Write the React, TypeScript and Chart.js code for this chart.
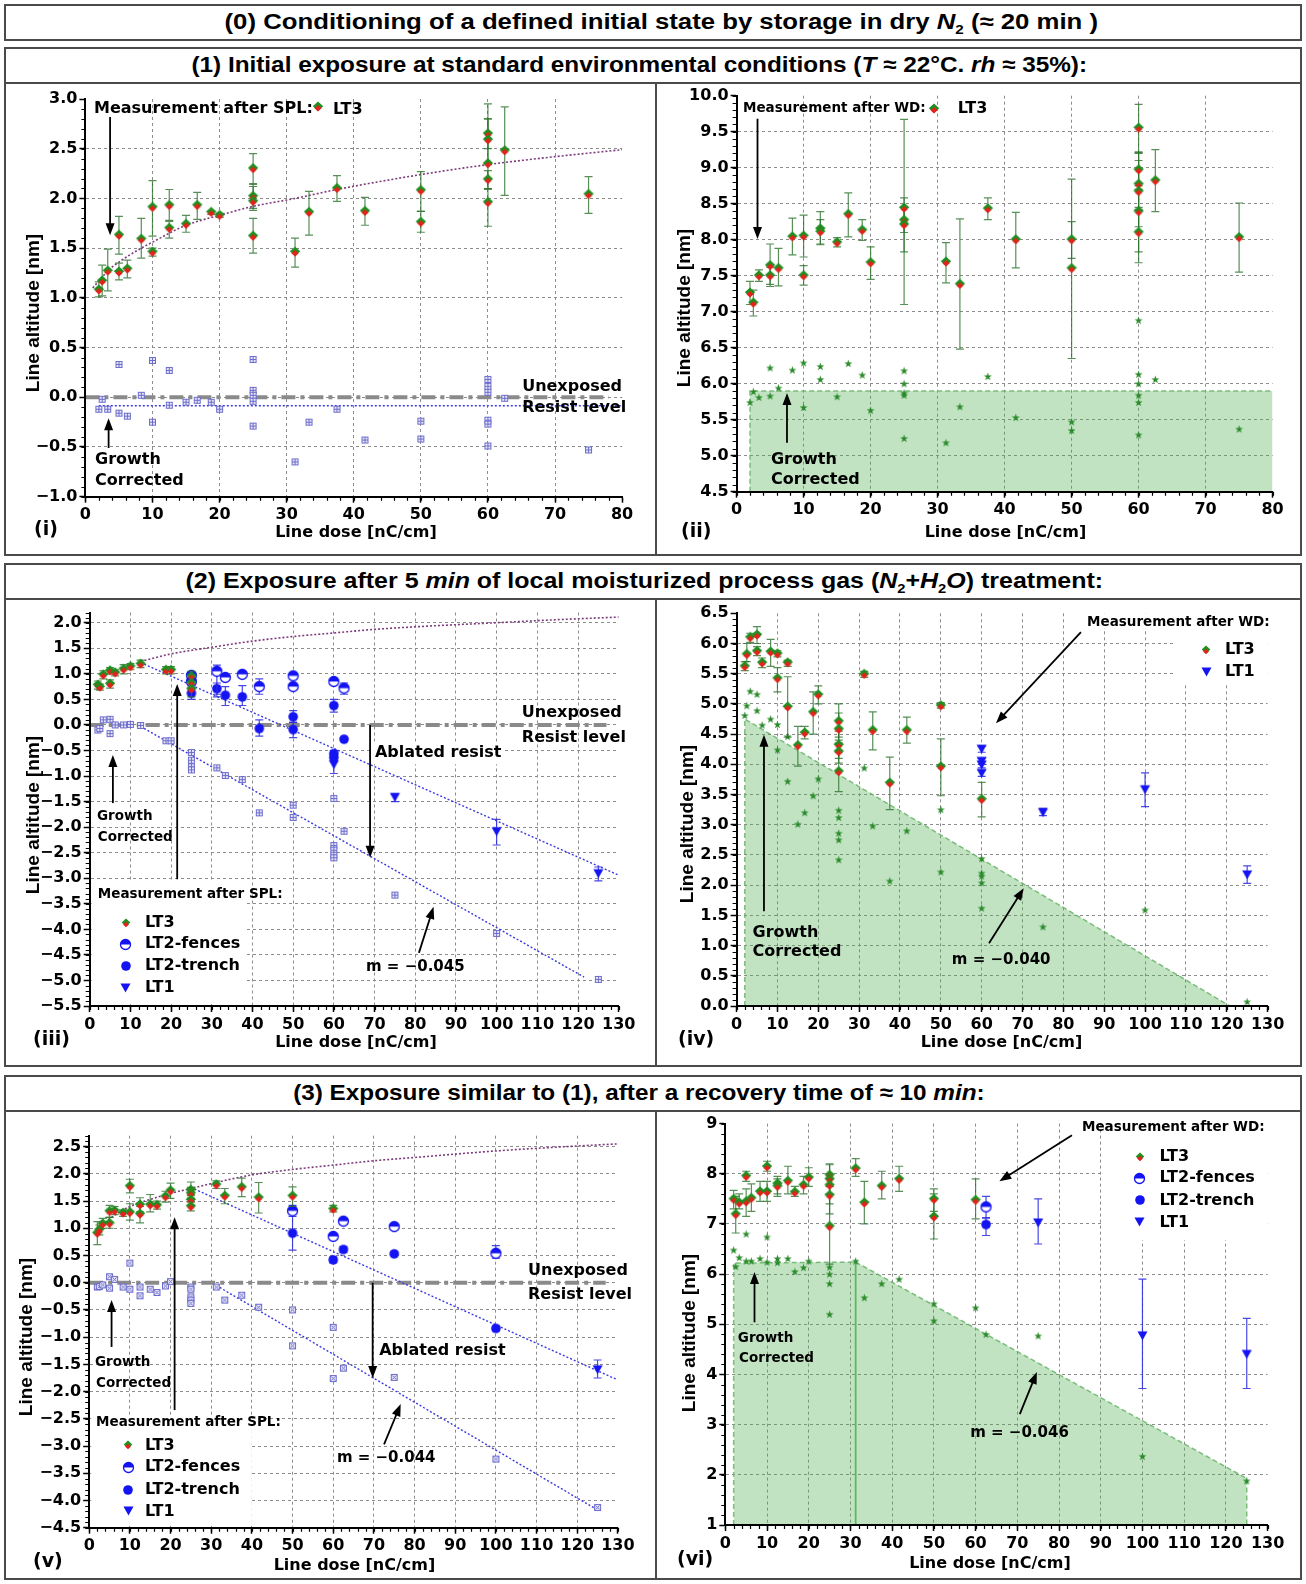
import React, { useEffect, useRef } from "react";
import { Chart, registerables } from "chart.js";

Chart.register(...registerables);

// ---------------- colours & fonts ----------------
const GREEN = "#1f8f1f";
const RED = "#e3221b";
const BLUE = "#1414f2";
const GRID = "#8c8c8c";
const ERR_GREEN = "rgba(45,115,45,0.8)";
const ERR_BLUE = "rgba(40,40,225,0.85)";
const FIT = "#7d3c7d";
const LEVEL_BLUE = "#3a3ae0";
const RESIST_GRAY = "#8a8a8a";
const FILL = "rgba(76,175,80,0.35)";
const FILL_EDGE = "rgba(105,180,105,0.85)";
const CHART_FAMILY = '"DejaVu Sans", "Liberation Sans", sans-serif';
const HEAD_FAMILY = '"Liberation Sans", Arial, sans-serif';

// ---------------- data ----------------
// rows: [line dose (nC/cm), line altitude (nm), error low, error high]

// (i) initial exposure, measured after SPL
const p1Lt3 = [
  [2, 1.08, 1.01, 1.16], [2.5, 1.17, 1.02, 1.33], [3.33, 1.27, 1.07, 1.49], [5, 1.63, 1.44, 1.82],
  [5, 1.26, 1.18, 1.35], [6.25, 1.29, 1.2, 1.38], [8.33, 1.59, 1.4, 1.8], [10, 1.91, 1.62, 2.18],
  [10, 1.46, 1.42, 1.5], [12.5, 1.93, 1.78, 2.09], [12.5, 1.7, 1.6, 1.77], [15, 1.74, 1.66, 1.83],
  [16.67, 1.93, 1.79, 2.06], [18.75, 1.86, 1.84, 1.87], [20, 1.83, 1.81, 1.85], [25, 2.3, 2.14, 2.45],
  [25, 2.02, 1.9, 2.15], [25, 1.97, 1.88, 2.12], [25, 1.62, 1.45, 1.8], [31.25, 1.46, 1.31, 1.6],
  [33.33, 1.86, 1.63, 2.07], [37.5, 2.1, 1.97, 2.23], [41.67, 1.87, 1.73, 2.01], [50, 2.08, 1.87, 2.27],
  [50, 1.76, 1.66, 1.87], [60, 2.65, 2.35, 2.95], [60, 2.59, 2.5, 2.8], [60, 2.35, 2.1, 2.8],
  [60, 2.19, 2.09, 2.28], [60, 1.96, 1.72, 2.1], [62.5, 2.48, 2.03, 2.92], [75, 2.04, 1.85, 2.22],
];
const p1Growth = [
  [2, -0.12], [2.5, -0.02], [3.33, -0.12], [5, 0.33], [5, -0.16], [6.25, -0.19], [8.33, 0.02],
  [10, 0.37], [10, -0.25], [12.5, 0.27], [12.5, -0.08], [15, -0.05], [16.67, -0.03], [18.75, -0.05],
  [20, -0.12], [25, 0.38], [25, 0.07], [25, 0.02], [25, -0.04], [25, -0.29], [31.25, -0.65],
  [33.33, -0.25], [37.5, -0.12], [41.67, -0.43], [50, -0.24], [50, -0.42], [60, 0.18], [60, 0.11],
  [60, 0.05], [60, -0.23], [60, -0.27], [60, -0.49], [62.5, -0.01], [75, -0.53],
];
const p1Fit = [
  [1.1, 1.1], [2, 1.17], [3.33, 1.27], [5, 1.36], [8.33, 1.5], [10, 1.56], [12.5, 1.65], [15, 1.73],
  [20, 1.83], [25, 1.92], [31.25, 2.0], [37.5, 2.09], [50, 2.24], [60, 2.34], [70, 2.42], [80, 2.49],
];
const p1GrowthLevel = [[2, -0.085], [80, -0.085]];
const p1Resist = [[0, 0], [78, 0]];

// (ii) initial exposure, measured after WD
const p2Lt3 = [
  [2, 7.26, 7.1, 7.42], [2.5, 7.12, 6.94, 7.3], [3.33, 7.5, 7.42, 7.58], [5, 7.64, 7.35, 7.94],
  [5, 7.5, 7.38, 7.62], [6.25, 7.6, 7.36, 7.88], [8.33, 8.04, 7.79, 8.3], [10, 8.05, 7.76, 8.34],
  [10, 7.5, 7.37, 7.64], [12.5, 8.15, 7.93, 8.39], [12.5, 8.11, 7.94, 8.28], [15, 7.96, 7.9, 8.03],
  [16.67, 8.35, 8.04, 8.65], [18.75, 8.13, 7.99, 8.28], [20, 7.68, 7.45, 7.9], [25, 8.44, 7.83, 9.67],
  [25, 8.27, 8.1, 8.58], [25, 8.21, 7.1, 8.45], [31.25, 7.69, 7.4, 7.96], [33.33, 7.38, 6.48, 8.29],
  [37.5, 8.43, 8.28, 8.58], [41.67, 8.0, 7.61, 8.38], [50, 8.0, 7.74, 8.25], [50, 7.6, 6.35, 8.84],
  [60, 9.55, 9.21, 9.88], [60, 8.97, 8.75, 9.2], [60, 8.77, 8.42, 9.1], [60, 8.67, 8.18, 9.22],
  [60, 8.39, 7.83, 8.7], [60, 8.1, 7.68, 8.45], [62.5, 8.82, 8.39, 9.25], [75, 8.03, 7.55, 8.51],
];
const p2Growth = [
  [2, 5.74], [2.5, 5.89], [3.33, 5.81], [5, 6.22], [5, 5.83], [6.25, 5.94], [8.33, 6.19], [10, 6.29],
  [10, 5.67], [12.5, 6.24], [12.5, 6.06], [15, 5.82], [16.67, 6.28], [18.75, 6.12], [20, 5.63],
  [25, 6.18], [25, 6.0], [25, 5.87], [25, 5.84], [25, 5.24], [31.25, 5.18], [33.33, 5.68], [37.5, 6.1],
  [41.67, 5.53], [50, 5.47], [50, 5.35], [60, 6.88], [60, 6.13], [60, 6.0], [60, 5.84], [60, 5.74],
  [60, 5.29], [62.5, 6.06], [75, 5.37],
];
const p2Band = [[2, 4.5], [2, 5.9], [80, 5.9]];

// (iii) after moisturized process gas, measured after SPL
const p3Lt3 = [
  [2, 0.78, 0.7, 0.86], [2.5, 0.74, 0.68, 0.8], [3.33, 0.98, 0.9, 1.06], [5, 1.06, 1.0, 1.12],
  [5, 0.8, 0.72, 0.88], [6.25, 1.02, 0.96, 1.08], [8.33, 1.09, 1.0, 1.18], [10, 1.14, 1.08, 1.2],
  [12.5, 1.19, 1.12, 1.27], [18.75, 1.07, 1.0, 1.14], [20, 1.07, 1.0, 1.14], [25, 0.95, 0.85, 1.05],
  [25, 0.82, 0.7, 0.95], [25, 0.7, 0.55, 0.85],
];
const p3Fences = [
  [25, 0.97, 0.9, 1.04], [25, 0.85, 0.78, 0.92], [31.25, 1.05, 0.55, 1.17], [33.33, 0.93, 0.88, 0.98],
  [37.5, 0.99, 0.94, 1.04], [41.67, 0.75, 0.6, 0.9], [50, 0.96, 0.9, 1.02], [50, 0.75, 0.7, 0.8],
  [60, 0.85, 0.8, 0.9], [62.5, 0.72, 0.6, 0.82],
];
const p3Trench = [
  [25, 0.62, 0.5, 0.74], [31.25, 0.71, 0.6, 0.82], [33.33, 0.58, 0.38, 0.75], [37.5, 0.55, 0.38, 0.77],
  [41.67, -0.07, -0.22, 0.1], [50, 0.16, 0.05, 0.28], [50, -0.09, -0.25, 0.05], [60, 0.38, 0.25, 0.5],
  [60, -0.56, -0.62, -0.5], [60, -0.64, -0.7, -0.58], [62.5, -0.28, -0.3, -0.26],
];
const p3Lt1 = [
  [60, -0.78, -0.95, -0.6], [75, -1.42, -1.5, -1.35], [100, -2.09, -2.35, -1.85], [125, -2.91, -3.05, -2.78],
];
const p3Growth = [
  [2, -0.1], [2.5, -0.07], [3.33, 0.1], [5, 0.11], [5, -0.17], [6.25, 0], [8.33, 0], [10, 0.01],
  [12.5, -0.01], [18.75, -0.31], [20, -0.31], [25, -0.54], [25, -0.69], [25, -0.82], [25, -0.88],
  [31.25, -0.84], [33.33, -0.99], [37.5, -1.07], [41.67, -1.72], [50, -1.57], [50, -1.81], [60, -1.44],
  [60, -2.36], [60, -2.45], [60, -2.55], [60, -2.6], [62.5, -2.08], [75, -3.33], [100, -4.08], [125, -4.98],
];
const p3Fit = [
  [12.5, 1.24], [20, 1.39], [30, 1.52], [40, 1.64], [50, 1.73], [60, 1.8], [70, 1.87], [80, 1.92],
  [100, 2.0], [115, 2.06], [130, 2.11],
];
const p3Upper = [[12.5, 1.22], [130, -2.94]];
const p3LowerStart = [12.5, -0.03];
const p3LowerEndDose = 121.5;
const p3Slope = -0.045;
const p3Resist = [[0, 0], [127, 0]];

// (iv) after moisturized process gas, measured after WD
const p4Lt3 = [
  [2, 5.62, 5.55, 5.7], [2.5, 5.82, 5.7, 6.0], [3.33, 6.1, 6.02, 6.17], [5, 6.14, 6.0, 6.28],
  [5, 5.87, 5.8, 5.95], [6.25, 5.68, 5.6, 5.76], [8.33, 5.86, 5.62, 6.07], [10, 5.83, 5.78, 5.88],
  [10, 5.42, 5.2, 5.6], [12.5, 5.68, 5.62, 5.72], [12.5, 4.95, 4.45, 5.45], [15, 4.31, 3.97, 4.63],
  [16.67, 4.52, 4.42, 4.63], [18.75, 4.86, 4.5, 5.2], [20, 5.15, 5.0, 5.3], [25, 4.71, 4.45, 5.0],
  [25, 4.58, 4.35, 4.85], [25, 4.32, 4.1, 4.55], [25, 4.21, 4.02, 4.4], [25, 3.88, 3.55, 4.2],
  [31.25, 5.49, 5.44, 5.54], [33.33, 4.56, 4.24, 4.87], [37.5, 3.69, 3.25, 4.12], [41.67, 4.56, 4.35, 4.78],
  [50, 4.97, 4.93, 5.02], [50, 3.96, 3.48, 4.42], [60, 3.42, 3.13, 3.7],
];
const p4Lt1 = [
  [60, 4.25, 4.2, 4.3], [60, 4.05, 4.0, 4.1], [60, 3.99, 3.94, 4.04], [60, 3.85, 3.8, 3.9],
  [75, 3.2, 3.15, 3.27], [100, 3.58, 3.3, 3.86], [125, 2.17, 2.03, 2.32],
];
const p4Growth = [
  [2, 4.81], [2.5, 4.97], [3.33, 5.21], [5, 5.16], [5, 4.89], [6.25, 4.65], [8.33, 4.75], [10, 4.66],
  [10, 4.24], [12.5, 4.46], [12.5, 3.72], [15, 3.01], [16.67, 3.2], [18.75, 3.48], [20, 3.76],
  [25, 3.24], [25, 3.12], [25, 2.86], [25, 2.75], [25, 2.42], [31.25, 3.94], [33.33, 2.98], [37.5, 2.07],
  [41.67, 2.9], [50, 3.25], [50, 2.22], [60, 2.44], [60, 2.2], [60, 2.15], [60, 2.04], [60, 1.62],
  [75, 1.31], [100, 1.59], [125, 0.07],
];
const p4EdgeStart = [2, 4.75];
const p4Slope = -0.04;
const p4EdgeEndDose = 120.75;

// (v) after recovery, measured after SPL
const p5Lt3 = [
  [2, 0.91, 0.7, 1.12], [2.5, 0.97, 0.88, 1.06], [3.33, 1.08, 1.0, 1.18], [5, 1.31, 1.2, 1.42],
  [5, 1.09, 1.0, 1.2], [6.25, 1.32, 1.25, 1.4], [8.33, 1.28, 1.22, 1.34], [10, 1.29, 1.15, 1.45],
  [10, 1.77, 1.65, 1.9], [12.5, 1.43, 1.3, 1.56], [12.5, 1.26, 1.1, 1.4], [15, 1.43, 1.3, 1.62],
  [16.67, 1.42, 1.35, 1.5], [18.75, 1.58, 1.48, 1.68], [20, 1.69, 1.55, 1.83], [25, 1.7, 1.6, 1.85],
  [25, 1.64, 1.55, 1.75], [25, 1.52, 1.42, 1.62], [25, 1.4, 1.32, 1.48], [31.25, 1.8, 1.73, 1.87],
  [33.33, 1.59, 1.45, 1.73], [37.5, 1.75, 1.58, 1.92], [41.67, 1.56, 1.28, 1.84], [50, 1.59, 1.4, 1.76],
  [60, 1.35, 1.3, 1.42],
];
const p5Fences = [
  [50, 1.32, 1.22, 1.42], [60, 0.85, 0.8, 0.9], [62.5, 1.13, 1.08, 1.18], [75, 1.03, 0.98, 1.08],
  [100, 0.54, 0.45, 0.68],
];
const p5Trench = [
  [50, 0.91, 0.6, 1.3], [60, 0.42, 0.37, 0.47], [62.5, 0.61, 0.56, 0.66], [75, 0.53, 0.5, 0.56],
  [100, -0.84, -0.88, -0.8],
];
const p5Lt1 = [[125, -1.6, -1.75, -1.42]];
const p5Growth = [
  [2, -0.08], [2.5, -0.07], [3.33, -0.04], [5, 0.11], [5, -0.1], [6.25, 0.06], [8.33, -0.08],
  [10, 0.36], [10, -0.12], [12.5, -0.08], [12.5, -0.24], [15, -0.12], [16.67, -0.18], [18.75, -0.06],
  [20, 0.02], [25, -0.08], [25, -0.12], [25, -0.26], [25, -0.32], [25, -0.38], [31.25, -0.08],
  [33.33, -0.32], [37.5, -0.23], [41.67, -0.45], [50, -0.5], [50, -1.16], [60, -0.82], [60, -1.76],
  [62.5, -1.57], [75, -1.74], [100, -3.24], [125, -4.13],
];
const p5Fit = [
  [1, 0.91], [2, 0.95], [5, 1.17], [10, 1.4], [15, 1.53], [20, 1.64], [25, 1.73], [30, 1.82],
  [40, 1.98], [50, 2.08], [60, 2.16], [70, 2.24], [80, 2.3], [100, 2.42], [115, 2.49], [130, 2.55],
];
const p5Upper = [[25, 1.75], [129.5, -1.77]];
const p5LowerStart = [31.25, -0.05];
const p5LowerEndDose = 125;
const p5Slope = -0.044;
const p5Resist = [[0, 0], [127, 0]];

// (vi) after recovery, measured after WD
const p6Lt3 = [
  [2, 7.49, 7.3, 7.67], [2.5, 7.19, 6.82, 7.55], [3.33, 7.42, 7.3, 7.6], [5, 7.95, 7.85, 8.05],
  [5, 7.44, 7.15, 7.7], [6.25, 7.51, 7.25, 7.8], [8.33, 7.64, 7.45, 7.85], [10, 8.14, 8.05, 8.25],
  [10, 7.64, 7.45, 7.85], [12.5, 7.8, 7.6, 7.95], [12.5, 7.75, 7.55, 7.9], [15, 7.85, 7.6, 8.15],
  [16.67, 7.63, 7.55, 7.75], [18.75, 7.77, 7.6, 7.95], [20, 7.92, 7.75, 8.12], [25, 7.97, 7.75, 8.2],
  [25, 7.89, 7.6, 8.18], [25, 7.77, 7.4, 8.0], [25, 7.57, 7.2, 7.9], [25, 6.95, 6.2, 7.75],
  [31.25, 8.1, 7.95, 8.3], [33.33, 7.42, 7.0, 7.85], [37.5, 7.75, 7.5, 8.05], [41.67, 7.89, 7.65, 8.15],
  [50, 7.49, 7.25, 7.7], [50, 7.14, 6.7, 7.6], [60, 7.47, 7.1, 7.9],
];
const p6Fences = [[62.5, 7.34, 7.12, 7.55]];
const p6Trench = [[62.5, 6.99, 6.77, 7.12]];
const p6Lt1 = [[75, 7.02, 6.6, 7.5], [100, 4.77, 3.72, 5.9], [125, 4.4, 3.72, 5.12]];
const p6Growth = [
  [2, 6.48], [2.5, 6.15], [3.33, 6.33], [5, 6.8], [5, 6.26], [6.25, 6.26], [8.33, 6.31], [10, 6.74],
  [10, 6.24], [12.5, 6.31], [12.5, 6.23], [15, 6.31], [16.67, 6.05], [18.75, 6.13], [20, 6.26],
  [25, 6.14], [25, 6.0], [25, 5.81], [25, 5.2], [31.25, 6.26], [33.33, 5.53], [37.5, 5.81], [41.67, 5.9],
  [50, 5.41], [50, 5.07], [60, 5.33], [62.5, 4.8], [75, 4.77], [100, 2.37], [125, 1.88],
];
const p6PlateauStart = [2, 6.22];
const p6PlateauEnd = [31.25, 6.24];
const p6Slope = -0.046;
const p6EdgeEndDose = 125;

// ---------------- layout of the six panels (page pixels) ----------------
const PANELS = [
  { box: { left: 6, top: 84, w: 647, h: 470 }, area: { left: 85.4, top: 99, right: 622.1, bottom: 496.7 } },
  { box: { left: 657, top: 84, w: 643, h: 470 }, area: { left: 736.6, top: 95.7, right: 1272.6, bottom: 491.7 } },
  { box: { left: 6, top: 600, w: 647, h: 465 }, area: { left: 89.7, top: 612.5, right: 618.7, bottom: 1006 } },
  { box: { left: 657, top: 600, w: 643, h: 465 }, area: { left: 736.6, top: 613.3, right: 1267.6, bottom: 1006 } },
  { box: { left: 6, top: 1112, w: 647, h: 466 }, area: { left: 89.2, top: 1135.7, right: 617.9, bottom: 1527.7 } },
  { box: { left: 657, top: 1112, w: 643, h: 466 }, area: { left: 725.3, top: 1123.3, right: 1267.6, bottom: 1525 } },
];

// ---------------- marker images ----------------
function mk(w: number, h: number, draw: (c: CanvasRenderingContext2D) => void) {
  const cv = document.createElement("canvas");
  cv.width = w;
  cv.height = h;
  draw(cv.getContext("2d") as CanvasRenderingContext2D);
  return cv;
}
function diamond(c: CanvasRenderingContext2D, cx: number, cy: number, rx: number, ry: number, color: string) {
  c.beginPath();
  c.moveTo(cx, cy - ry);
  c.lineTo(cx + rx, cy);
  c.lineTo(cx, cy + ry);
  c.lineTo(cx - rx, cy);
  c.closePath();
  c.fillStyle = color;
  c.fill();
}
function makeIcons() {
  const lt3 = (w: number, h: number, rx: number, ry: number) =>
    mk(w, h, (c) => {
      diamond(c, w / 2, ry + 0.5, rx, ry, GREEN);
      diamond(c, w / 2, ry + 2.5, rx * 0.68, ry * 0.68, RED);
    });
  return {
    lt3: lt3(12, 12, 5.2, 4.8),
    lt3Small: lt3(10, 10, 4.3, 4),
    boxPlus: mk(9, 9, (c) => {
      c.fillStyle = "#e6e6f8";
      c.fillRect(1, 1, 7, 7);
      c.strokeStyle = "#6d6dcc";
      c.lineWidth = 1;
      c.strokeRect(1.5, 1.5, 6, 6);
      c.beginPath();
      c.moveTo(4.5, 2);
      c.lineTo(4.5, 7);
      c.moveTo(2, 4.5);
      c.lineTo(7, 4.5);
      c.stroke();
    }),
    boxCross: mk(9, 9, (c) => {
      c.fillStyle = "#e6e6f8";
      c.fillRect(1, 1, 7, 7);
      c.strokeStyle = "#6d6dcc";
      c.lineWidth = 1;
      c.strokeRect(1.5, 1.5, 6, 6);
      c.beginPath();
      c.moveTo(2.5, 2.5);
      c.lineTo(6.5, 6.5);
      c.moveTo(6.5, 2.5);
      c.lineTo(2.5, 6.5);
      c.stroke();
    }),
    star: mk(9, 9, (c) => {
      c.beginPath();
      for (let i = 0; i < 10; i++) {
        const a = -Math.PI / 2 + (i * Math.PI) / 5;
        const r = i % 2 ? 1.7 : 4.2;
        c.lineTo(4.5 + r * Math.cos(a), 4.8 + r * Math.sin(a));
      }
      c.closePath();
      c.fillStyle = "#2a8a2a";
      c.fill();
    }),
    fences: mk(13, 13, (c) => {
      c.beginPath();
      c.arc(6.5, 6.5, 5, 0, Math.PI * 2);
      c.fillStyle = "#fff";
      c.fill();
      c.beginPath();
      c.arc(6.5, 6.5, 5, Math.PI, Math.PI * 2);
      c.closePath();
      c.fillStyle = BLUE;
      c.fill();
      c.beginPath();
      c.arc(6.5, 6.5, 5, 0, Math.PI * 2);
      c.strokeStyle = BLUE;
      c.lineWidth = 1.3;
      c.stroke();
    }),
    trench: mk(12, 12, (c) => {
      c.beginPath();
      c.arc(6, 6, 4.8, 0, Math.PI * 2);
      c.fillStyle = BLUE;
      c.fill();
    }),
    lt1: mk(13, 12, (c) => {
      c.beginPath();
      c.moveTo(1.5, 1.5);
      c.lineTo(11.5, 1.5);
      c.lineTo(6.5, 10.5);
      c.closePath();
      c.fillStyle = BLUE;
      c.fill();
    }),
  };
}

// ---------------- dataset helpers ----------------
const toXY = (rows: number[][]) => rows.map((r) => ({ x: r[0], y: r[1] }));
function markers(rows: number[][], icon: any, order: number, errColor?: string) {
  return {
    data: toXY(rows),
    pointStyle: icon,
    pointRadius: 4,
    showLine: false,
    order,
    errors: rows[0].length > 2 ? rows.map((r) => [r[2], r[3]]) : null,
    errColor,
  };
}
function line(pts: number[][], color: string, width: number, dash: number[], smooth = false) {
  return {
    data: toXY(pts),
    showLine: true,
    borderColor: color,
    borderWidth: width,
    borderDash: dash,
    pointRadius: 0,
    fill: false,
    order: 5,
    cubicInterpolationMode: smooth ? "monotone" : "default",
  };
}
function band(pts: number[][]) {
  return {
    data: toXY(pts),
    showLine: true,
    borderColor: FILL_EDGE,
    borderWidth: 1.5,
    borderDash: [5, 3],
    backgroundColor: FILL,
    pointRadius: 0,
    fill: "start",
    order: 10,
  };
}
const sloped = (start: number[], slope: number, endDose: number) => [
  start,
  [endDose, start[1] + slope * (endDose - start[0])],
];

const fmt = (v: number, d: number) => (v < -1e-9 ? "\u2212" : "") + Math.abs(v).toFixed(d);

// ---------------- plugins ----------------
const errorBars = {
  id: "errorBars",
  beforeDatasetDraw(chart: any, args: any) {
    const ds = chart.data.datasets[args.index];
    if (!ds.errors) return;
    const { ctx } = chart;
    const xs = chart.scales.x;
    const ys = chart.scales.y;
    ctx.save();
    ctx.strokeStyle = ds.errColor;
    ctx.lineWidth = 1.2;
    ds.data.forEach((p: any, i: number) => {
      const [lo, hi] = ds.errors[i];
      const px = xs.getPixelForValue(p.x);
      const pl = ys.getPixelForValue(lo);
      const ph = ys.getPixelForValue(hi);
      ctx.beginPath();
      ctx.moveTo(px, pl);
      ctx.lineTo(px, ph);
      ctx.moveTo(px - 4, pl);
      ctx.lineTo(px + 4, pl);
      ctx.moveTo(px - 4, ph);
      ctx.lineTo(px + 4, ph);
      ctx.stroke();
    });
    ctx.restore();
  },
};

function minorTicks(s: any) {
  return {
    id: "minorTicks",
    afterDraw(chart: any) {
      const { ctx, chartArea: ca } = chart;
      const xs = chart.scales.x;
      const ys = chart.scales.y;
      ctx.save();
      ctx.strokeStyle = "#000";
      ctx.lineWidth = 1.2;
      ctx.beginPath();
      const nx = Math.round((s.x.max - s.x.min) / s.x.minor);
      for (let i = 0; i <= nx; i++) {
        const px = Math.round(xs.getPixelForValue(s.x.min + i * s.x.minor)) + 0.5;
        ctx.moveTo(px, ca.bottom);
        ctx.lineTo(px, ca.bottom + 4);
      }
      const ny = Math.round((s.y.max - s.y.min) / s.y.minor);
      for (let i = 0; i <= ny; i++) {
        const py = Math.round(ys.getPixelForValue(s.y.min + i * s.y.minor)) + 0.5;
        ctx.moveTo(ca.left, py);
        ctx.lineTo(ca.left - 4, py);
      }
      ctx.stroke();
      ctx.restore();
    },
  };
}

function annotations(s: any) {
  return {
    id: "annotations",
    beforeDatasetsDraw(chart: any) {
      const { ctx } = chart;
      const xs = chart.scales.x;
      const ys = chart.scales.y;
      ctx.save();
      ctx.fillStyle = "#fff";
      (s.masks || []).forEach((m: number[]) => {
        const x1 = xs.getPixelForValue(m[0]) + 2;
        const x2 = xs.getPixelForValue(m[1]);
        const y1 = ys.getPixelForValue(m[3]);
        const y2 = ys.getPixelForValue(m[2]) - 2;
        ctx.fillRect(x1, y1, x2 - x1, y2 - y1);
      });
      ctx.restore();
    },
    afterDatasetsDraw(chart: any) {
      const { ctx } = chart;
      const xs = chart.scales.x;
      const ys = chart.scales.y;
      ctx.save();
      (s.arrows || []).forEach((a: number[]) => {
        const x1 = xs.getPixelForValue(a[0]);
        const y1 = ys.getPixelForValue(a[1]);
        const x2 = xs.getPixelForValue(a[2]);
        const y2 = ys.getPixelForValue(a[3]);
        const ang = Math.atan2(y2 - y1, x2 - x1);
        const cs = Math.cos(ang);
        const sn = Math.sin(ang);
        ctx.strokeStyle = "#000";
        ctx.lineWidth = 1.8;
        ctx.beginPath();
        ctx.moveTo(x1, y1);
        ctx.lineTo(x2 - cs * 8, y2 - sn * 8);
        ctx.stroke();
        ctx.fillStyle = "#000";
        ctx.beginPath();
        ctx.moveTo(x2, y2);
        ctx.lineTo(x2 - cs * 12 - sn * 4.5, y2 - sn * 12 + cs * 4.5);
        ctx.lineTo(x2 - cs * 12 + sn * 4.5, y2 - sn * 12 - cs * 4.5);
        ctx.closePath();
        ctx.fill();
      });
      (s.icons || []).forEach((ic: any) => {
        const px = xs.getPixelForValue(ic.x);
        const py = ys.getPixelForValue(ic.y);
        ctx.drawImage(ic.icon, Math.round(px - ic.icon.width / 2), Math.round(py - ic.icon.height / 2));
      });
      ctx.textAlign = "left";
      ctx.textBaseline = "middle";
      (s.texts || []).forEach((t: any) => {
        const size = t.size || 16;
        ctx.font = `bold ${size}px ${CHART_FAMILY}`;
        const px = xs.getPixelForValue(t.x);
        const py = ys.getPixelForValue(t.y);
        if (t.bg) {
          const w = ctx.measureText(t.t).width;
          ctx.fillStyle = "#fff";
          ctx.fillRect(px - 2, py - size * 0.7, w + 4, size * 1.4);
        }
        ctx.fillStyle = "#000";
        ctx.fillText(t.t, px, py);
      });
      ctx.restore();
    },
  };
}

function createChart(canvas: HTMLCanvasElement, s: any) {
  const { box, area } = s.layout;
  const yW = area.left - box.left;
  const xH = 30;
  const padTop = area.top - box.top;
  const padRight = box.left + box.w - area.right;
  const padBottom = box.top + box.h - area.bottom - xH;
  const tickFont = { family: CHART_FAMILY, size: 16, weight: "bold" };
  const axis = (a: any, isX: boolean) => ({
    type: "linear",
    min: a.min,
    max: a.max,
    afterFit: (sc: any) => {
      if (isX) sc.height = xH;
      else sc.width = yW;
    },
    // major ticks exactly every `step` from the axis minimum
    afterBuildTicks: (sc: any) => {
      const n = Math.floor((a.max - a.min) / a.step + 1e-6);
      const ticks = [];
      for (let k = 0; k <= n; k++) ticks.push({ value: +(a.min + k * a.step).toFixed(6) });
      sc.ticks = ticks;
    },
    ticks: {
      stepSize: a.step,
      autoSkip: false,
      maxRotation: 0,
      minRotation: 0,
      color: "#000",
      padding: isX ? 3 : 2,
      font: tickFont,
      callback: (v: any) => fmt(Number(v), a.dec),
    },
    grid: {
      color: (c: any) => {
        const v = c.tick ? c.tick.value : NaN;
        return Math.abs(v - a.min) < 1e-6 || Math.abs(v - a.max) < 1e-6 ? "rgba(0,0,0,0)" : GRID;
      },
      lineWidth: 1,
      tickLength: 6,
      tickColor: "#000",
      tickWidth: 1.5,
    },
    border: { color: "#000", width: 2, dash: [3, 3], z: 1 },
  });
  return new Chart(canvas, {
    type: "scatter",
    data: { datasets: s.datasets },
    options: {
      animation: false,
      responsive: false,
      maintainAspectRatio: false,
      events: [],
      layout: { padding: { left: 0, top: padTop, right: padRight, bottom: padBottom } },
      plugins: { legend: { display: false }, tooltip: { enabled: false } },
      scales: { x: axis(s.x, true), y: axis(s.y, false) },
    } as any,
    plugins: [errorBars, minorTicks(s), annotations(s)],
  } as any);
}

function buildSpecs(ic: any) {
  const X80 = { min: 0, max: 80, step: 10, minor: 2, dec: 0 };
  const X130 = { min: 0, max: 130, step: 10, minor: 2, dec: 0 };
  const resistLine = (pts: number[][]) => line(pts, RESIST_GRAY, 4, [14, 5, 4, 5]);
  return [
    {
      layout: PANELS[0],
      x: X80,
      y: { min: -1, max: 3, step: 0.5, minor: 0.1, dec: 1 },
      datasets: [
        markers(p1Lt3, ic.lt3, 0, ERR_GREEN),
        markers(p1Growth, ic.boxPlus, 2),
        line(p1Fit, FIT, 1.6, [2, 2], true),
        line(p1GrowthLevel, LEVEL_BLUE, 1.5, [2, 2]),
        resistLine(p1Resist),
      ],
      texts: [
        { x: 1.28, y: 2.905, t: "Measurement after SPL:" },
        { x: 36.9, y: 2.895, t: "LT3" },
        { x: 65.1, y: 0.1, t: "Unexposed" },
        { x: 65.1, y: -0.11, t: "Resist level" },
        { x: 1.43, y: -0.63, t: "Growth" },
        { x: 1.43, y: -0.84, t: "Corrected" },
      ],
      icons: [{ x: 34.7, y: 2.915, icon: ic.lt3 }],
      arrows: [[3.68, 2.82, 3.68, 1.63], [3.46, -0.51, 3.46, -0.21]],
    },
    {
      layout: PANELS[1],
      x: X80,
      y: { min: 4.5, max: 10, step: 0.5, minor: 0.1, dec: 1 },
      datasets: [
        markers(p2Lt3, ic.lt3, 0, ERR_GREEN),
        markers(p2Growth, ic.star, 2),
        band(p2Band),
      ],
      texts: [
        { x: 0.96, y: 9.82, t: "Measurement after WD:", size: 13.5 },
        { x: 33.0, y: 9.82, t: "LT3" },
        { x: 5.13, y: 4.94, t: "Growth" },
        { x: 5.13, y: 4.66, t: "Corrected" },
      ],
      icons: [{ x: 29.5, y: 9.82, icon: ic.lt3 }],
      arrows: [[3.12, 9.68, 3.12, 8.01], [7.52, 5.18, 7.52, 5.87]],
    },
    {
      layout: PANELS[2],
      x: X130,
      y: { min: -5.5, max: 2.2, step: 0.5, minor: 0.1, dec: 1 },
      datasets: [
        markers(p3Lt3, ic.lt3, 0, ERR_GREEN),
        markers(p3Fences, ic.fences, 1, ERR_BLUE),
        markers(p3Trench, ic.trench, 1, ERR_BLUE),
        markers(p3Lt1, ic.lt1, 1, ERR_BLUE),
        markers(p3Growth, ic.boxPlus, 2),
        line(p3Fit, FIT, 1.6, [2, 2], true),
        line(p3Upper, LEVEL_BLUE, 1.4, [2, 2]),
        line(sloped(p3LowerStart, p3Slope, p3LowerEndDose), LEVEL_BLUE, 1.4, [2, 2]),
        resistLine(p3Resist),
      ],
      masks: [[0, 38, -5.5, -3.05]],
      texts: [
        { x: 106.2, y: 0.233, t: "Unexposed" },
        { x: 106.2, y: -0.256, t: "Resist level" },
        { x: 70.1, y: -0.55, t: "Ablated resist", bg: true },
        { x: 1.8, y: -1.8, t: "Growth", size: 13.5 },
        { x: 2.0, y: -2.21, t: "Corrected", size: 13.5 },
        { x: 2.0, y: -3.31, t: "Measurement after SPL:", size: 13.5 },
        { x: 13.6, y: -3.88, t: "LT3" },
        { x: 13.6, y: -4.29, t: "LT2-fences" },
        { x: 13.6, y: -4.72, t: "LT2-trench" },
        { x: 13.6, y: -5.15, t: "LT1" },
        { x: 67.9, y: -4.74, t: "m = \u22120.045", size: 15 },
      ],
      icons: [
        { x: 8.9, y: -3.88, icon: ic.lt3Small },
        { x: 8.9, y: -4.29, icon: ic.fences },
        { x: 8.9, y: -4.72, icon: ic.trench },
        { x: 8.9, y: -5.15, icon: ic.lt1 },
      ],
      arrows: [
        [68.9, 0, 68.9, -2.6],
        [21.5, -3.02, 21.5, 0.8],
        [5.7, -1.53, 5.7, -0.59],
        [80.9, -4.46, 84.5, -3.56],
      ],
    },
    {
      layout: PANELS[3],
      x: X130,
      y: { min: 0, max: 6.5, step: 0.5, minor: 0.1, dec: 1 },
      datasets: [
        markers(p4Lt3, ic.lt3, 0, ERR_GREEN),
        markers(p4Lt1, ic.lt1, 1, ERR_BLUE),
        markers(p4Growth, ic.star, 2),
        band([[p4EdgeStart[0], 0], ...sloped(p4EdgeStart, p4Slope, p4EdgeEndDose)]),
      ],
      masks: [[85.5, 130, 6.22, 6.5], [106.5, 130, 5.3, 6.5]],
      texts: [
        { x: 85.8, y: 6.34, t: "Measurement after WD:", size: 13.5 },
        { x: 119.6, y: 5.89, t: "LT3" },
        { x: 119.6, y: 5.53, t: "LT1" },
        { x: 3.9, y: 1.21, t: "Growth" },
        { x: 3.9, y: 0.89, t: "Corrected" },
        { x: 52.7, y: 0.76, t: "m = \u22120.040", size: 15 },
      ],
      icons: [
        { x: 115, y: 5.89, icon: ic.lt3Small },
        { x: 115, y: 5.53, icon: ic.lt1 },
      ],
      arrows: [
        [84.3, 6.19, 63.5, 4.68],
        [6.7, 1.57, 6.7, 4.49],
        [61.8, 1.04, 70.3, 1.95],
      ],
    },
    {
      layout: PANELS[4],
      x: X130,
      y: { min: -4.5, max: 2.7, step: 0.5, minor: 0.1, dec: 1 },
      datasets: [
        markers(p5Lt3, ic.lt3, 0, ERR_GREEN),
        markers(p5Fences, ic.fences, 1, ERR_BLUE),
        markers(p5Trench, ic.trench, 1, ERR_BLUE),
        markers(p5Lt1, ic.lt1, 1, ERR_BLUE),
        markers(p5Growth, ic.boxCross, 2),
        line(p5Fit, FIT, 1.6, [2, 2], true),
        line(p5Upper, LEVEL_BLUE, 1.4, [2, 2]),
        line(sloped(p5LowerStart, p5Slope, p5LowerEndDose), LEVEL_BLUE, 1.4, [2, 2]),
        resistLine(p5Resist),
      ],
      masks: [[0, 40, -4.5, -2.45]],
      texts: [
        { x: 107.9, y: 0.21, t: "Unexposed" },
        { x: 107.9, y: -0.23, t: "Resist level" },
        { x: 71.3, y: -1.26, t: "Ablated resist", bg: true },
        { x: 1.4, y: -1.46, t: "Growth", size: 13.5 },
        { x: 1.7, y: -1.85, t: "Corrected", size: 13.5 },
        { x: 1.7, y: -2.56, t: "Measurement after SPL:", size: 13.5 },
        { x: 13.7, y: -2.99, t: "LT3" },
        { x: 13.7, y: -3.39, t: "LT2-fences" },
        { x: 13.7, y: -3.8, t: "LT2-trench" },
        { x: 13.7, y: -4.2, t: "LT1" },
        { x: 60.9, y: -3.22, t: "m = \u22120.044", size: 15 },
      ],
      icons: [
        { x: 9.6, y: -2.99, icon: ic.lt3Small },
        { x: 9.6, y: -3.39, icon: ic.fences },
        { x: 9.6, y: -3.8, icon: ic.trench },
        { x: 9.6, y: -4.2, icon: ic.lt1 },
      ],
      arrows: [
        [69.7, 0, 69.7, -1.75],
        [21, -2.34, 21, 1.2],
        [5.5, -1.18, 5.5, -0.32],
        [72.5, -2.97, 76.6, -2.23],
      ],
    },
    {
      layout: PANELS[5],
      x: X130,
      y: { min: 1, max: 9, step: 1, minor: 0.2, dec: 0 },
      datasets: [
        markers(p6Lt3, ic.lt3, 0, ERR_GREEN),
        markers(p6Fences, ic.fences, 1, ERR_BLUE),
        markers(p6Trench, ic.trench, 1, ERR_BLUE),
        markers(p6Lt1, ic.lt1, 1, ERR_BLUE),
        markers(p6Growth, ic.star, 2),
        line([[p6PlateauEnd[0], 1], p6PlateauEnd], "#5cb85c", 1.8, []),
        band([
          [p6PlateauStart[0], 1],
          p6PlateauStart,
          ...sloped(p6PlateauEnd, p6Slope, p6EdgeEndDose),
          [p6EdgeEndDose, 1],
        ]),
      ],
      masks: [[89.8, 130, 6.64, 9]],
      texts: [
        { x: 85.5, y: 8.92, t: "Measurement after WD:", size: 13.5 },
        { x: 104.1, y: 8.33, t: "LT3" },
        { x: 104.1, y: 7.91, t: "LT2-fences" },
        { x: 104.1, y: 7.47, t: "LT2-trench" },
        { x: 104.1, y: 7.03, t: "LT1" },
        { x: 3.0, y: 4.72, t: "Growth", size: 13.5 },
        { x: 3.3, y: 4.32, t: "Corrected", size: 13.5 },
        { x: 58.7, y: 2.83, t: "m = \u22120.046", size: 15 },
      ],
      icons: [
        { x: 99.3, y: 8.33, icon: ic.lt3Small },
        { x: 99.3, y: 7.91, icon: ic.fences },
        { x: 99.3, y: 7.47, icon: ic.trench },
        { x: 99.3, y: 7.03, icon: ic.lt1 },
      ],
      arrows: [
        [83.1, 8.77, 65.7, 7.85],
        [7.0, 5.04, 7.0, 6.04],
        [70.6, 3.21, 74.7, 4.05],
      ],
    },
  ];
}

// ---------------- page ----------------
const BORDER = "2px solid #4a4a4a";
const boxStyle = (left: number, top: number, width: number, height: number): React.CSSProperties => ({
  position: "absolute",
  left,
  top,
  width,
  height,
  border: BORDER,
  boxSizing: "border-box",
});
const headStyle = (cx: number, top: number): React.CSSProperties => ({
  position: "absolute",
  left: cx - 640,
  width: 1280,
  top,
  height: 34,
  lineHeight: "34px",
  textAlign: "center",
  fontFamily: HEAD_FAMILY,
  fontWeight: 700,
  fontSize: 22,
  color: "#000",
  whiteSpace: "nowrap",
});
const stretch = (sx: number): React.CSSProperties => ({
  display: "inline-block",
  transform: `scaleX(${sx})`,
  transformOrigin: "center",
});
const subStyle: React.CSSProperties = { fontSize: 13, verticalAlign: "-5px", lineHeight: 0 };

const yTitles = [
  [32.5, 312.5], [683.5, 307.5], [33, 815], [686.6, 824], [26.3, 1336.7], [688.7, 1333],
];
const xTitles = [[356, 532], [1005.5, 532], [356, 1042], [1001.5, 1042], [354.5, 1565], [990, 1563]];
const panelTags = [
  ["(i)", 34, 528], ["(ii)", 681, 530], ["(iii)", 33, 1038], ["(iv)", 678, 1038], ["(v)", 33, 1560], ["(vi)", 677, 1558],
];

export default function App() {
  const refs = useRef<(HTMLCanvasElement | null)[]>([]);
  useEffect(() => {
    const ic = makeIcons();
    const specs = buildSpecs(ic);
    const charts = specs.map((s, i) => createChart(refs.current[i] as HTMLCanvasElement, s));
    return () => charts.forEach((c) => c.destroy());
  }, []);

  return (
    <div style={{ position: "absolute", left: 0, top: 0, width: 1306, height: 1584, background: "#fff", overflow: "hidden" }}>
      {/* section frames */}
      <div style={boxStyle(4, 4, 1298, 37)} />
      <div style={boxStyle(4, 47, 1298, 37)} />
      <div style={boxStyle(4, 82, 653, 474)} />
      <div style={boxStyle(655, 82, 647, 474)} />
      <div style={boxStyle(4, 563, 1298, 37)} />
      <div style={boxStyle(4, 598, 653, 469)} />
      <div style={boxStyle(655, 598, 647, 469)} />
      <div style={boxStyle(4, 1075, 1298, 37)} />
      <div style={boxStyle(4, 1110, 653, 470)} />
      <div style={boxStyle(655, 1110, 647, 470)} />

      <div style={headStyle(661, 5)}>
        <span style={stretch(1.17)}>
          (0) Conditioning of a defined initial state by storage in dry <i>N</i>
          <span style={subStyle}>2</span> (≈ 20 min )
        </span>
      </div>
      <div style={headStyle(639, 48)}>
        <span style={stretch(1.105)}>
          (1) Initial exposure at standard environmental conditions (<i>T</i> ≈ 22°C. <i>rh</i> ≈ 35%):
        </span>
      </div>
      <div style={headStyle(644, 564)}>
        <span style={stretch(1.135)}>
          (2) Exposure after 5 <i>min</i> of local moisturized process gas (<i>N</i>
          <span style={subStyle}>2</span>+<i>H</i>
          <span style={subStyle}>2</span>
          <i>O</i>) treatment:
        </span>
      </div>
      <div style={headStyle(639, 1076)}>
        <span style={stretch(1.105)}>
          (3) Exposure similar to (1), after a recovery time of ≈ 10 <i>min</i>:
        </span>
      </div>

      {PANELS.map((p, i) => (
        <canvas
          key={i}
          ref={(el) => {
            refs.current[i] = el;
          }}
          width={p.box.w}
          height={p.box.h}
          style={{ position: "absolute", left: p.box.left, top: p.box.top, width: p.box.w, height: p.box.h }}
        />
      ))}

      {yTitles.map(([cx, cy], i) => (
        <div
          key={"yt" + i}
          style={{
            position: "absolute",
            left: cx - 150,
            top: cy - 12,
            width: 300,
            height: 24,
            lineHeight: "24px",
            textAlign: "center",
            transform: "rotate(-90deg)",
            fontFamily: HEAD_FAMILY,
            fontWeight: 700,
            fontSize: 19,
            whiteSpace: "nowrap",
          }}
        >
          Line altitude [nm]
        </div>
      ))}
      {xTitles.map(([cx, cy], i) => (
        <div
          key={"xt" + i}
          style={{
            position: "absolute",
            left: cx - 150,
            top: cy - 11,
            width: 300,
            height: 22,
            lineHeight: "22px",
            textAlign: "center",
            fontFamily: CHART_FAMILY,
            fontWeight: 700,
            fontSize: 16,
            whiteSpace: "nowrap",
          }}
        >
          Line dose [nC/cm]
        </div>
      ))}
      {panelTags.map(([t, x, y], i) => (
        <div
          key={"pt" + i}
          style={{
            position: "absolute",
            left: x as number,
            top: (y as number) - 12,
            height: 24,
            lineHeight: "24px",
            fontFamily: CHART_FAMILY,
            fontWeight: 700,
            fontSize: 19,
          }}
        >
          {t}
        </div>
      ))}
    </div>
  );
}
